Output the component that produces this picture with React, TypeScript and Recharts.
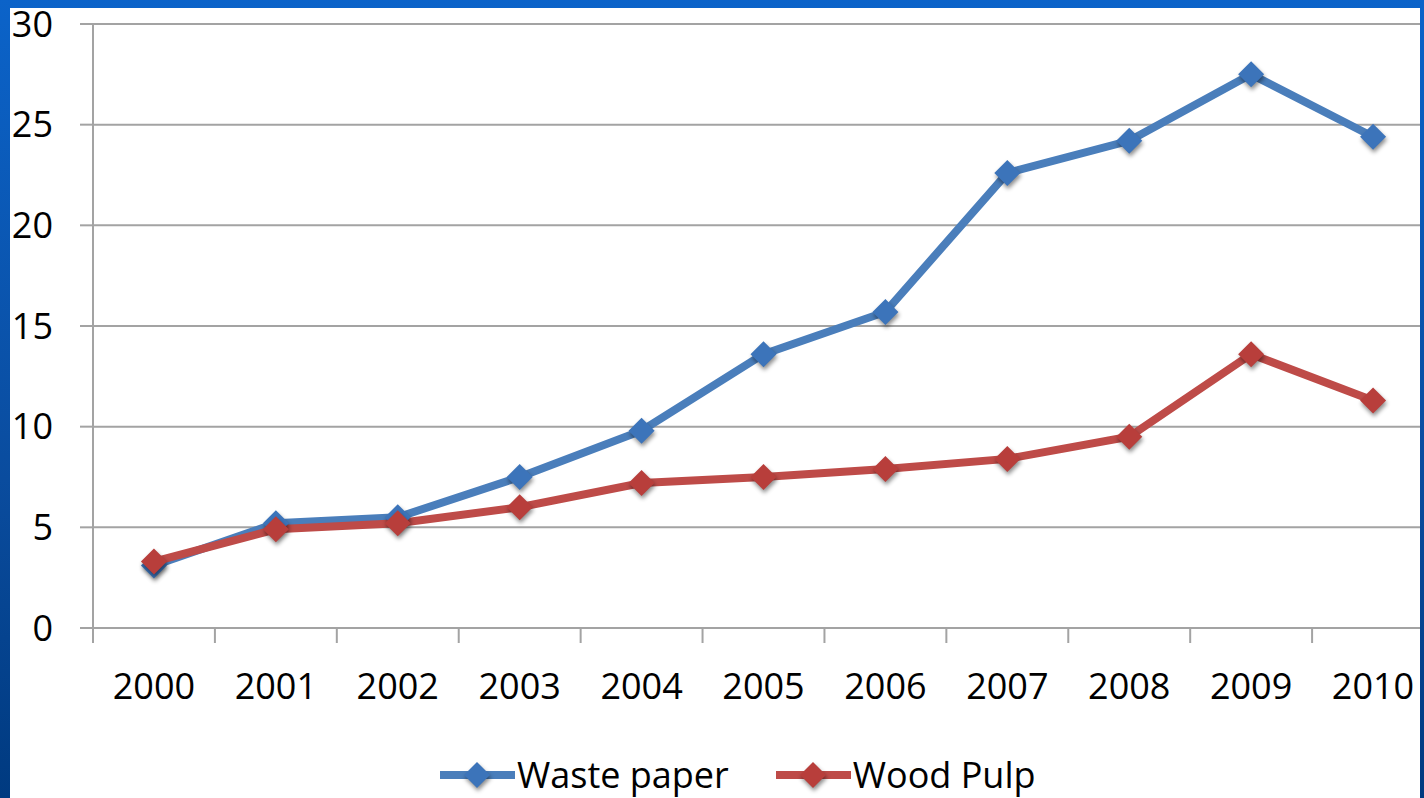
import { CartesianGrid, Legend, Line, LineChart, XAxis, YAxis } from "recharts";

const years = ["2000", "2001", "2002", "2003", "2004", "2005", "2006", "2007", "2008", "2009", "2010"];
const wastePaper = [3.1, 5.2, 5.5, 7.5, 9.8, 13.6, 15.7, 22.6, 24.2, 27.5, 24.4];
const woodPulp = [3.3, 4.9, 5.2, 6.0, 7.2, 7.5, 7.9, 8.4, 9.5, 13.6, 11.3];
const yTicks = [0, 5, 10, 15, 20, 25, 30];

const BLUE = "#4a7ebb";
const BLUE_DOT = "#3c74ba";
const RED = "#be4b48";
const RED_DOT = "#b83e3b";
const GRID = "#a3a3a3";
const FONT = "'Open Sans', sans-serif";

const series = [
  { key: "waste", name: "Waste paper", color: BLUE, dot: BLUE_DOT },
  { key: "wood", name: "Wood Pulp", color: RED, dot: RED_DOT },
];

const data = years.map((year, i) => ({ i, year, waste: wastePaper[i], wood: woodPulp[i] }));

// centers carry the year labels, half steps carry the tick marks between categories
const xTicks = years.flatMap((_, i) => [i - 0.5, i]).concat(years.length - 0.5);

function diamondPath(cx: number, cy: number, r: number) {
  return `M${cx},${cy - r}L${cx + r},${cy}L${cx},${cy + r}L${cx - r},${cy}Z`;
}

function Diamond(props: any) {
  const { cx, cy, fill } = props;
  if (cx == null || cy == null) return null;
  return (
    <path
      d={diamondPath(cx, cy, 13)}
      fill={fill}
      style={{ filter: "drop-shadow(1px 3px 2px rgba(0,0,0,0.45))" }}
    />
  );
}

function YearTick(props: any) {
  const { x, y, payload } = props;
  const v = payload.value as number;
  if (!Number.isInteger(v)) {
    return <line x1={x} y1={y} x2={x} y2={y + 15} stroke={GRID} strokeWidth={2} />;
  }
  return (
    <text x={x} y={y + 45} dy="0.71em" textAnchor="middle" fill="#000" fontSize={36} fontFamily={FONT}>
      {years[v]}
    </text>
  );
}

function LegendContent() {
  return (
    <div style={{ display: "flex", alignItems: "center", fontFamily: FONT, fontSize: 36, color: "#000" }}>
      {series.map((s) => (
        <div key={s.key} style={{ display: "flex", alignItems: "center", marginRight: 47 }}>
          <svg width={77} height={40} style={{ overflow: "visible" }}>
            <line x1={0} y1={20} x2={75} y2={20} stroke={s.color} strokeWidth={8} />
            <path d={diamondPath(37, 20, 13)} fill={s.dot} style={{ filter: "drop-shadow(1px 3px 2px rgba(0,0,0,0.45))" }} />
          </svg>
          <span style={{ lineHeight: "50px" }}>{s.name}</span>
        </div>
      ))}
    </div>
  );
}

export default function App() {
  return (
    <div
      style={{
        position: "fixed",
        left: 0,
        top: 0,
        width: 1424,
        height: 798,
        background: "linear-gradient(#0b63c9, #0a4c9e 60%, #003a80)",
        fontFamily: FONT,
      }}
    >
      <div style={{ position: "absolute", left: 10, top: 8, width: 1410, height: 790, background: "#fff", overflow: "hidden" }}>
        <LineChart width={1430} height={790} data={data} margin={{ top: 16, right: 6, bottom: 0, left: 0 }}>
          <CartesianGrid vertical={false} stroke={GRID} strokeWidth={2} />
          <XAxis
            type="number"
            dataKey="i"
            domain={[-0.5, years.length - 0.5]}
            ticks={xTicks}
            interval={0}
            tickLine={false}
            tickSize={0}
            tickMargin={0}
            height={170}
            axisLine={{ stroke: GRID, strokeWidth: 2 }}
            tick={<YearTick />}
          />
          <YAxis
            domain={[0, 30]}
            ticks={yTicks}
            interval={0}
            width={83}
            tickSize={13}
            tickMargin={27}
            axisLine={{ stroke: GRID, strokeWidth: 2 }}
            tickLine={{ stroke: GRID, strokeWidth: 2 }}
            tick={{ fill: "#000", fontSize: 36, fontFamily: FONT }}
          />
          <Legend
            layout="horizontal"
            verticalAlign="middle"
            align="center"
            content={<LegendContent />}
            wrapperStyle={{ top: 742, left: 430, width: "auto" }}
          />
          {series.map((s) => (
            <Line
              key={s.key}
              dataKey={s.key}
              name={s.name}
              type="linear"
              stroke={s.color}
              strokeWidth={8}
              isAnimationActive={false}
              dot={(p: any) => <Diamond key={`${s.key}-${p.index}`} {...p} fill={s.dot} />}
              activeDot={false}
            />
          ))}
        </LineChart>
      </div>
    </div>
  );
}
